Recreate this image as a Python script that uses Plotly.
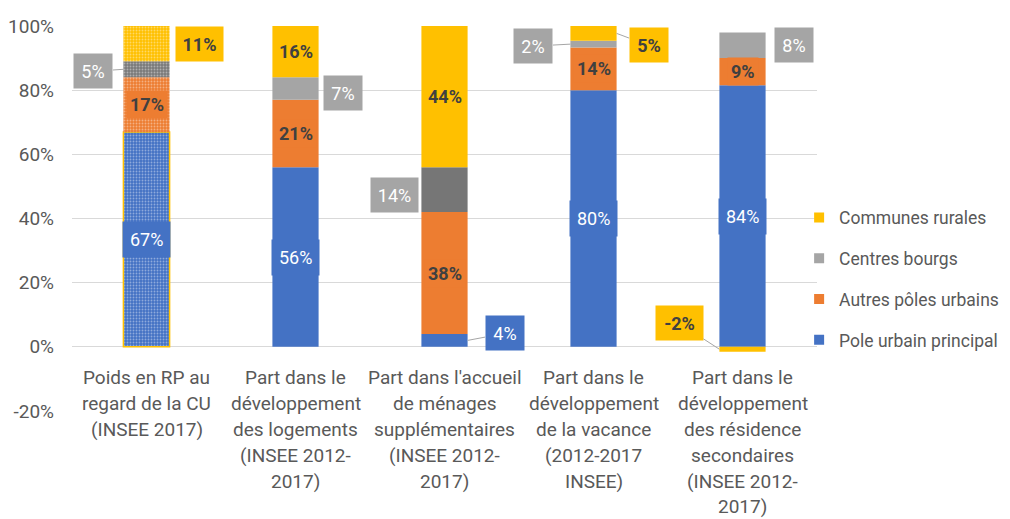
import plotly.graph_objects as go

# ---------------- data ----------------
categories = [
    "Poids en RP au<br>regard de la CU<br>(INSEE 2017)",
    "Part dans le<br>développement<br>des logements<br>(INSEE 2012-<br>2017)",
    "Part dans l'accueil<br>de ménages<br>supplémentaires<br>(INSEE 2012-<br>2017)",
    "Part dans le<br>développement<br>de la vacance<br>(2012-2017<br>INSEE)",
    "Part dans le<br>développement<br>des résidence<br>secondaires<br>(INSEE 2012-<br>2017)",
]
series_names = ["Pole urbain principal", "Autres pôles urbains", "Centres bourgs", "Communes rurales"]

pole_urbain = [67, 56, 4, 80, 81.5]
autres_poles = [17, 21, 38, 13.3, 8.5]
centres_bourgs = [5, 7, 14, 2.1, 8]
communes_rurales = [11, 16, 44, 4.6, -1.5]

pole_labels = ["67%", "56%", "4%", "80%", "84%"]
autres_labels = ["17%", "21%", "38%", "14%", "9%"]
bourgs_labels = ["5%", "7%", "14%", "2%", "8%"]
rurales_labels = ["11%", "16%", "44%", "5%", "-2%"]

y_tickvals = [-20, 0, 20, 40, 60, 80, 100]
y_ticktext = ["-20%", "0%", "20%", "40%", "60%", "80%", "100%"]

# ---------------- style ----------------
# note: the page body has an 8px default margin, so the figure is 1002x511
FONT = "Roboto, sans-serif"
FS = 19
TXT = "#595959"
DARK = "#404040"
BLUE, ORANGE, GRAY, YELLOW = "#4472C4", "#ED7D31", "#A5A5A5", "#FFC000"
gray_point_colors = ["#7a7a7a", GRAY, "#767676", GRAY, GRAY]
BAR_W = 0.31
HW = BAR_W / 2

values = [pole_urbain, autres_poles, centres_bourgs, communes_rurales]
labels = [pole_labels, autres_labels, bourgs_labels, rurales_labels]
colors = [BLUE, ORANGE, gray_point_colors, YELLOW]
box_colors = [BLUE, ORANGE, GRAY, YELLOW]
text_colors = ["white", DARK, "white", DARK]
x = list(range(len(categories)))

fig = go.Figure()
for s, name in enumerate(series_names):
    line_col = [YELLOW, BLUE, BLUE, BLUE, BLUE] if s == 0 else colors[s]
    line_w = [1.5, 0, 0, 0, 0] if s == 0 else 0
    fig.add_trace(go.Bar(
        x=x, y=values[s], name=name, width=BAR_W,
        marker=dict(
            color=colors[s],
            line=dict(width=line_w, color=line_col),
            pattern=dict(shape=[".", "", "", "", ""], size=3, solidity=0.3,
                         fgcolor="white", fgopacity=0.4),
        ),
        showlegend=False,
        hoverinfo="skip",
    ))

# legend entries (plain square swatches), top to bottom as in the reference
for s in reversed(range(len(series_names))):
    fig.add_trace(go.Scatter(
        x=[None], y=[None], mode="markers", name=series_names[s],
        marker=dict(symbol="square", size=10, color=box_colors[s]),
        legendgroup=series_names[s], showlegend=True, hoverinfo="skip",
    ))

# callouts: (series, index) -> (side, ax, ay, line)
callouts = {
    (3, 0): (+1, 30, 0, False),
    (2, 0): (-1, -30, 2, True),
    (2, 1): (+1, 24, 4, False),
    (2, 2): (-1, -27, 5, False),
    (0, 2): (+1, 37, -7, True),
    (2, 3): (-1, -37, 2, True),
    (3, 3): (+1, 32, 12, True),
    (2, 4): (+1, 28, 0, False),
    (3, 4): (-1, -40, -26, True),
}

annotations = []
pos_base = [0.0] * len(x)
neg_base = [0.0] * len(x)
for s in range(len(series_names)):
    for i in x:
        v = values[s][i]
        if v >= 0:
            yc = pos_base[i] + v / 2
            pos_base[i] += v
        else:
            yc = neg_base[i] + v / 2
            neg_base[i] += v
        txt = labels[s][i]
        bold = text_colors[s] == DARK
        t = f"<b>{txt}</b>" if bold else txt
        if (s, i) in callouts:
            side, ax, ay, line = callouts[(s, i)]
            annotations.append(dict(
                x=i + side * HW, y=yc, xref="x", yref="y", text=t,
                showarrow=True, ax=ax, ay=ay, arrowhead=0, arrowwidth=1,
                arrowcolor="#a6a6a6" if line else "rgba(0,0,0,0)",
                bgcolor=box_colors[s], font=dict(family=FONT, size=FS - 1, color=text_colors[s]),
                borderpad=5, height=24, width=9 * len(txt) + 10,
            ))
        else:
            annotations.append(dict(
                x=i, y=yc, xref="x", yref="y", text=t, showarrow=False,
                bgcolor=box_colors[s], font=dict(family=FONT, size=FS - 1, color=text_colors[s]),
                borderpad=7 if s == 0 else 3,
            ))

# category labels, one annotation per line
for i, cat in enumerate(categories):
    for k, line in enumerate(cat.split("<br>")):
        annotations.append(dict(
            x=i, y=0, xref="x", yref="y", text=line, showarrow=False,
            yanchor="middle", yshift=-(31 + 25.8 * k),
            font=dict(family=FONT, size=FS, color=TXT),
        ))

fig.update_layout(
    barmode="relative",
    width=1002, height=511,
    margin=dict(l=64, r=193, t=18, b=108, autoexpand=False),
    paper_bgcolor="white", plot_bgcolor="white",
    font=dict(family=FONT, size=FS, color=TXT),
    showlegend=True,
    legend=dict(
        x=0.976, xanchor="left", y=0.549, yanchor="top",
        traceorder="grouped", tracegroupgap=15,
        font=dict(family=FONT, size=17.5, color=TXT),
        bgcolor="rgba(0,0,0,0)", itemwidth=30,
    ),
    xaxis=dict(range=[-0.5, 4.5], showticklabels=False, showgrid=False,
               zeroline=False, ticks="", automargin=False),
    yaxis=dict(range=[-20, 100], tickvals=y_tickvals, ticktext=y_ticktext,
               showgrid=True, gridcolor="#d9d9d9", gridwidth=1,
               zeroline=True, zerolinecolor="#d9d9d9", zerolinewidth=1,
               ticks="", ticklabelstandoff=17, automargin=False,
               tickfont=dict(family=FONT, size=FS, color=TXT)),
    annotations=annotations,
)

fig.write_html("out.html")
